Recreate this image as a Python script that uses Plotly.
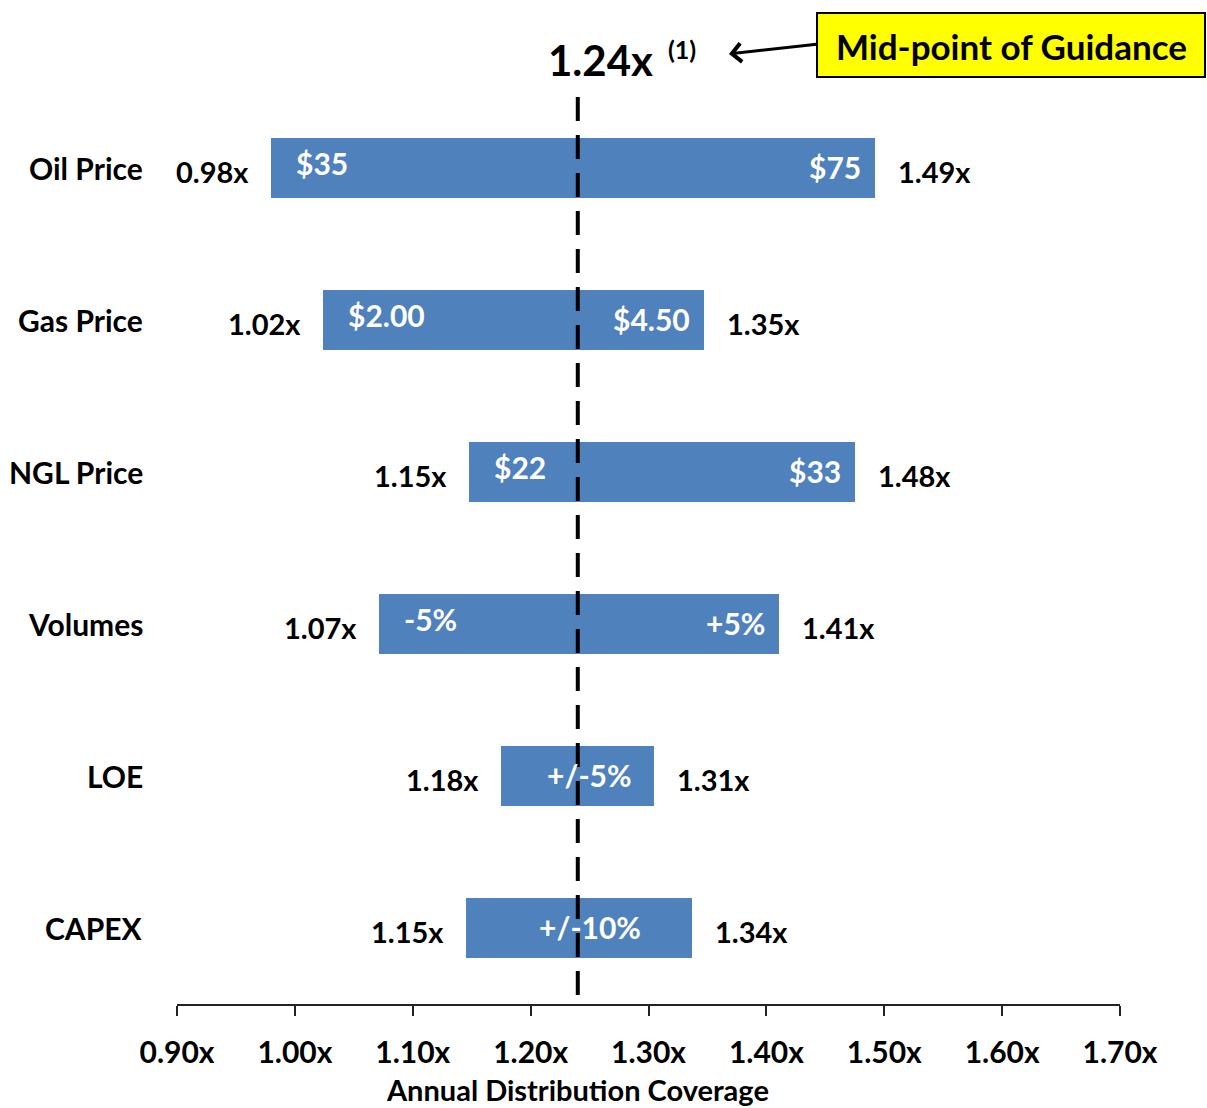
import plotly.graph_objects as go

categories = ["Oil Price", "Gas Price", "NGL Price", "Volumes", "LOE", "CAPEX"]
low_values = [0.98, 1.024, 1.148, 1.071, 1.175, 1.145]
high_values = [1.492, 1.347, 1.475, 1.411, 1.305, 1.337]
low_labels = ["0.98x", "1.02x", "1.15x", "1.07x", "1.18x", "1.15x"]
high_labels = ["1.49x", "1.35x", "1.48x", "1.41x", "1.31x", "1.34x"]
low_inside = ["$35", "$2.00", "$22", "-5%", "", ""]
high_inside = ["$75", "$4.50", "$33", "+5%", "", ""]
center_inside = ["", "", "", "", "+/-5%", "+/-10%"]
midpoint = 1.24
x_ticks = [0.90, 1.00, 1.10, 1.20, 1.30, 1.40, 1.50, 1.60, 1.70]
x_tick_labels = ["0.90x", "1.00x", "1.10x", "1.20x", "1.30x", "1.40x", "1.50x", "1.60x", "1.70x"]

W, H = 1207, 1108
L, R, T, B = 177, 87, 92, 104
PW, PH = W - L - R, H - T - B
FONT = "Lato"
BLUE = "#4F81BD"


def px_x(px):
    return (px - L) / PW


def px_y(py):
    return (H - B - py) / PH


fig = go.Figure()
fig.add_trace(go.Bar(
    y=categories, x=[midpoint - v for v in low_values], base=low_values,
    orientation="h", width=0.39, marker=dict(color=BLUE, line=dict(width=0)),
    showlegend=False, hoverinfo="skip"))
fig.add_trace(go.Bar(
    y=categories, x=[v - midpoint for v in high_values], base=[midpoint] * len(categories),
    orientation="h", width=0.39, marker=dict(color=BLUE, line=dict(width=0)),
    showlegend=False, hoverinfo="skip"))

ann = []
cf = dict(family=FONT, size=30, color="black")
bf = dict(family=FONT, size=29, color="black")
wf = dict(family=FONT, size=30, color="white")
for i, c in enumerate(categories):
    ann.append(dict(x=0, xref="paper", y=c, yref="y", text="<b>%s</b>" % c,
                    xanchor="right", yanchor="middle", xshift=-32, showarrow=False, font=cf))
    ann.append(dict(x=low_values[i], xref="x", y=c, yref="y", text="<b>%s</b>" % low_labels[i],
                    xanchor="right", yanchor="middle", xshift=-20, yshift=-3, showarrow=False, font=bf))
    ann.append(dict(x=high_values[i], xref="x", y=c, yref="y", text="<b>%s</b>" % high_labels[i],
                    xanchor="left", yanchor="middle", xshift=21, yshift=-3, showarrow=False, font=bf))
    if low_inside[i]:
        ann.append(dict(x=low_values[i], xref="x", y=c, yref="y", text="<b>%s</b>" % low_inside[i],
                        xanchor="left", yanchor="middle", xshift=23, yshift=5, showarrow=False, font=wf))
    if high_inside[i]:
        ann.append(dict(x=high_values[i], xref="x", y=c, yref="y", text="<b>%s</b>" % high_inside[i],
                        xanchor="right", yanchor="middle", xshift=-12, yshift=1, showarrow=False, font=wf))
    if center_inside[i]:
        ann.append(dict(x=midpoint, xref="x", y=c, yref="y", text="<b>%s</b>" % center_inside[i],
                        xanchor="center", yanchor="middle", xshift=12, yshift=1, showarrow=False, font=wf))

# midpoint label
ann.append(dict(x=midpoint, xref="x", y=px_y(60), yref="paper", text="<b>1.24x</b>",
                xanchor="left", yanchor="middle", xshift=-32, showarrow=False,
                font=dict(family=FONT, size=42, color="black")))
ann.append(dict(x=px_x(666), xref="paper", y=px_y(49), yref="paper", text="<b>(1)</b>",
                xanchor="left", yanchor="middle", showarrow=False,
                font=dict(family=FONT, size=25, color="black")))
# arrow
ann.append(dict(x=px_x(729), y=px_y(54), xref="paper", yref="paper",
                ax=89, ay=-10, axref="pixel", ayref="pixel",
                text="", showarrow=True, arrowhead=4, arrowsize=1.2, arrowwidth=3, arrowcolor="black"))
# callout box text
ann.append(dict(x=px_x(1011), y=px_y(46), xref="paper", yref="paper",
                text="<b>Mid-point of Guidance</b>", showarrow=False,
                xanchor="center", yanchor="middle",
                font=dict(family=FONT, size=35, color="black")))
# axis title
ann.append(dict(x=midpoint, xref="x", y=px_y(1089), yref="paper",
                text="<b>Annual Distribution Coverage</b>", showarrow=False,
                xanchor="center", yanchor="middle",
                font=dict(family=FONT, size=29, color="black")))

shapes = [
    dict(type="line", xref="x", yref="paper", x0=midpoint, x1=midpoint, y0=0.01, y1=px_y(95),
         line=dict(color="black", width=4, dash="24px,14px"), layer="above"),
    dict(type="rect", xref="paper", yref="paper", x0=px_x(817), x1=px_x(1205),
         y0=px_y(77), y1=px_y(13), fillcolor="#FFFF00", line=dict(color="black", width=2),
         layer="below"),
]

fig.update_layout(
    width=W, height=H,
    margin=dict(l=L, r=R, t=T, b=B),
    paper_bgcolor="white", plot_bgcolor="white",
    barmode="overlay", bargap=0,
    annotations=ann, shapes=shapes,
    font=dict(family=FONT, color="black"),
    xaxis=dict(range=[0.9, 1.7], tickvals=x_ticks, ticktext=["<b>%s</b>" % t for t in x_tick_labels],
               showgrid=False, zeroline=False, showline=True, linecolor="#222222", linewidth=2,
               ticks="outside", ticklen=10, tickwidth=2, tickcolor="#222222",
               tickfont=dict(family=FONT, size=30, color="black"), ticklabelstandoff=11),
    yaxis=dict(categoryorder="array", categoryarray=categories, autorange="reversed",
               showticklabels=False, showgrid=False, zeroline=False, showline=False, ticks=""),
)

fig.write_html("out.html")
